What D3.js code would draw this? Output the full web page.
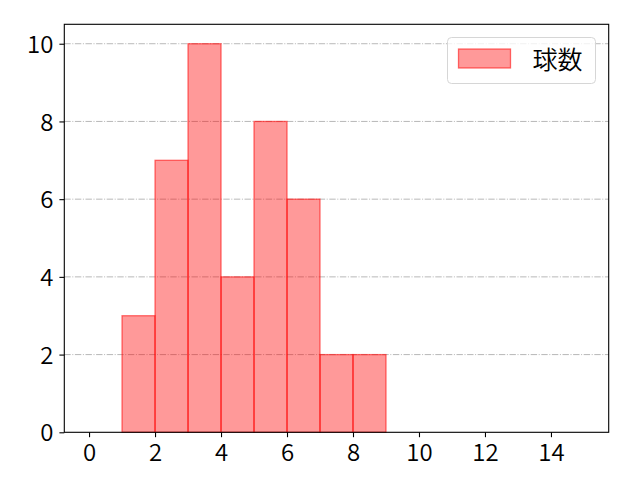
<!DOCTYPE html>
<html>
<head>
<meta charset="utf-8">
<script src="https://cdn.jsdelivr.net/npm/d3@7"></script>
<style>
  body { margin: 0; background: #fff; }
  svg { display: block; font-family: "Noto Sans CJK JP", "DejaVu Sans", sans-serif; }
</style>
</head>
<body>
<svg id="chart" width="640" height="480"></svg>
<script>
// histogram bins (left edge) and counts
var binStarts = [1, 2, 3, 4, 5, 6, 7, 8];
var binCounts = [3, 7, 10, 4, 8, 6, 2, 2];
var binWidth = 1;
var xTicks = [0, 2, 4, 6, 8, 10, 12, 14];
var yTicks = [0, 2, 4, 6, 8, 10];
var seriesName = "球数";

var svg = d3.select("#chart");
var box = { left: 64.3, right: 608.7, top: 24.3, bottom: 432.3 };

// bins span 0..15, matplotlib pads 5% on each side
var x = d3.scaleLinear().domain([-0.75, 15.75]).range([box.left, box.right]);
var y = d3.scaleLinear().domain([0, 10.5]).range([box.bottom, box.top]);

// grid lines on y
svg.append("g")
    .selectAll("line")
    .data(yTicks.filter(function (d) { return d > 0; }))
    .enter().append("line")
    .attr("x1", box.left).attr("x2", box.right)
    .attr("y1", function (d) { return y(d); })
    .attr("y2", function (d) { return y(d); })
    .attr("stroke", "#b0b0b0")
    .attr("stroke-width", 0.9)
    .attr("stroke-dasharray", "6.4,1.6,1,1.6");

// bars
svg.append("g")
    .selectAll("rect")
    .data(binStarts)
    .enter().append("rect")
    .attr("x", function (d) { return x(d); })
    .attr("y", function (d, i) { return y(binCounts[i]); })
    .attr("width", function (d) { return x(d + binWidth) - x(d); })
    .attr("height", function (d, i) { return y(0) - y(binCounts[i]); })
    .attr("fill", "rgba(255,0,0,0.4)")
    .attr("stroke", "rgba(255,0,0,0.55)")
    .attr("stroke-width", 1.3);

// axes
var xAxis = d3.axisBottom(x).tickValues(xTicks).tickSize(4.9).tickPadding(6).tickFormat(d3.format("d"));
var yAxis = d3.axisLeft(y).tickValues(yTicks).tickSize(4.9).tickPadding(6).tickFormat(d3.format("d"));

var gx = svg.append("g").attr("transform", "translate(0," + box.bottom + ")").call(xAxis);
var gy = svg.append("g").attr("transform", "translate(" + box.left + ",0)").call(yAxis);
[gx, gy].forEach(function (g) {
    g.attr("font-size", 24).attr("font-family", "'Noto Sans CJK JP', 'DejaVu Sans', sans-serif");
    g.select(".domain").remove();
    g.selectAll(".tick line").attr("stroke", "#000").attr("stroke-width", 1.1);
    g.selectAll(".tick text").attr("fill", "#000").attr("font-weight", 350);
});
gx.selectAll(".tick text").attr("dy", "0.76em");
gy.selectAll(".tick text").attr("dy", "0.36em");

// frame
svg.append("rect")
    .attr("x", box.left).attr("y", box.top)
    .attr("width", box.right - box.left)
    .attr("height", box.bottom - box.top)
    .attr("fill", "none")
    .attr("stroke", "#000")
    .attr("stroke-width", 1.1);

// legend
var lg = svg.append("g").attr("transform", "translate(447.5,37.5)");
lg.append("rect")
    .attr("width", 148).attr("height", 46)
    .attr("rx", 4).attr("ry", 4)
    .attr("fill", "rgba(255,255,255,0.8)")
    .attr("stroke", "#d6d6d6");
lg.append("rect")
    .attr("x", 11).attr("y", 11.5)
    .attr("width", 52).attr("height", 19)
    .attr("fill", "rgba(255,0,0,0.4)")
    .attr("stroke", "rgba(255,0,0,0.55)")
    .attr("stroke-width", 1.3);
lg.append("text")
    .attr("x", 85).attr("y", 31)
    .attr("font-size", 25)
    .attr("font-weight", 350)
    .attr("fill", "#000")
    .text(seriesName);
</script>
</body>
</html>
